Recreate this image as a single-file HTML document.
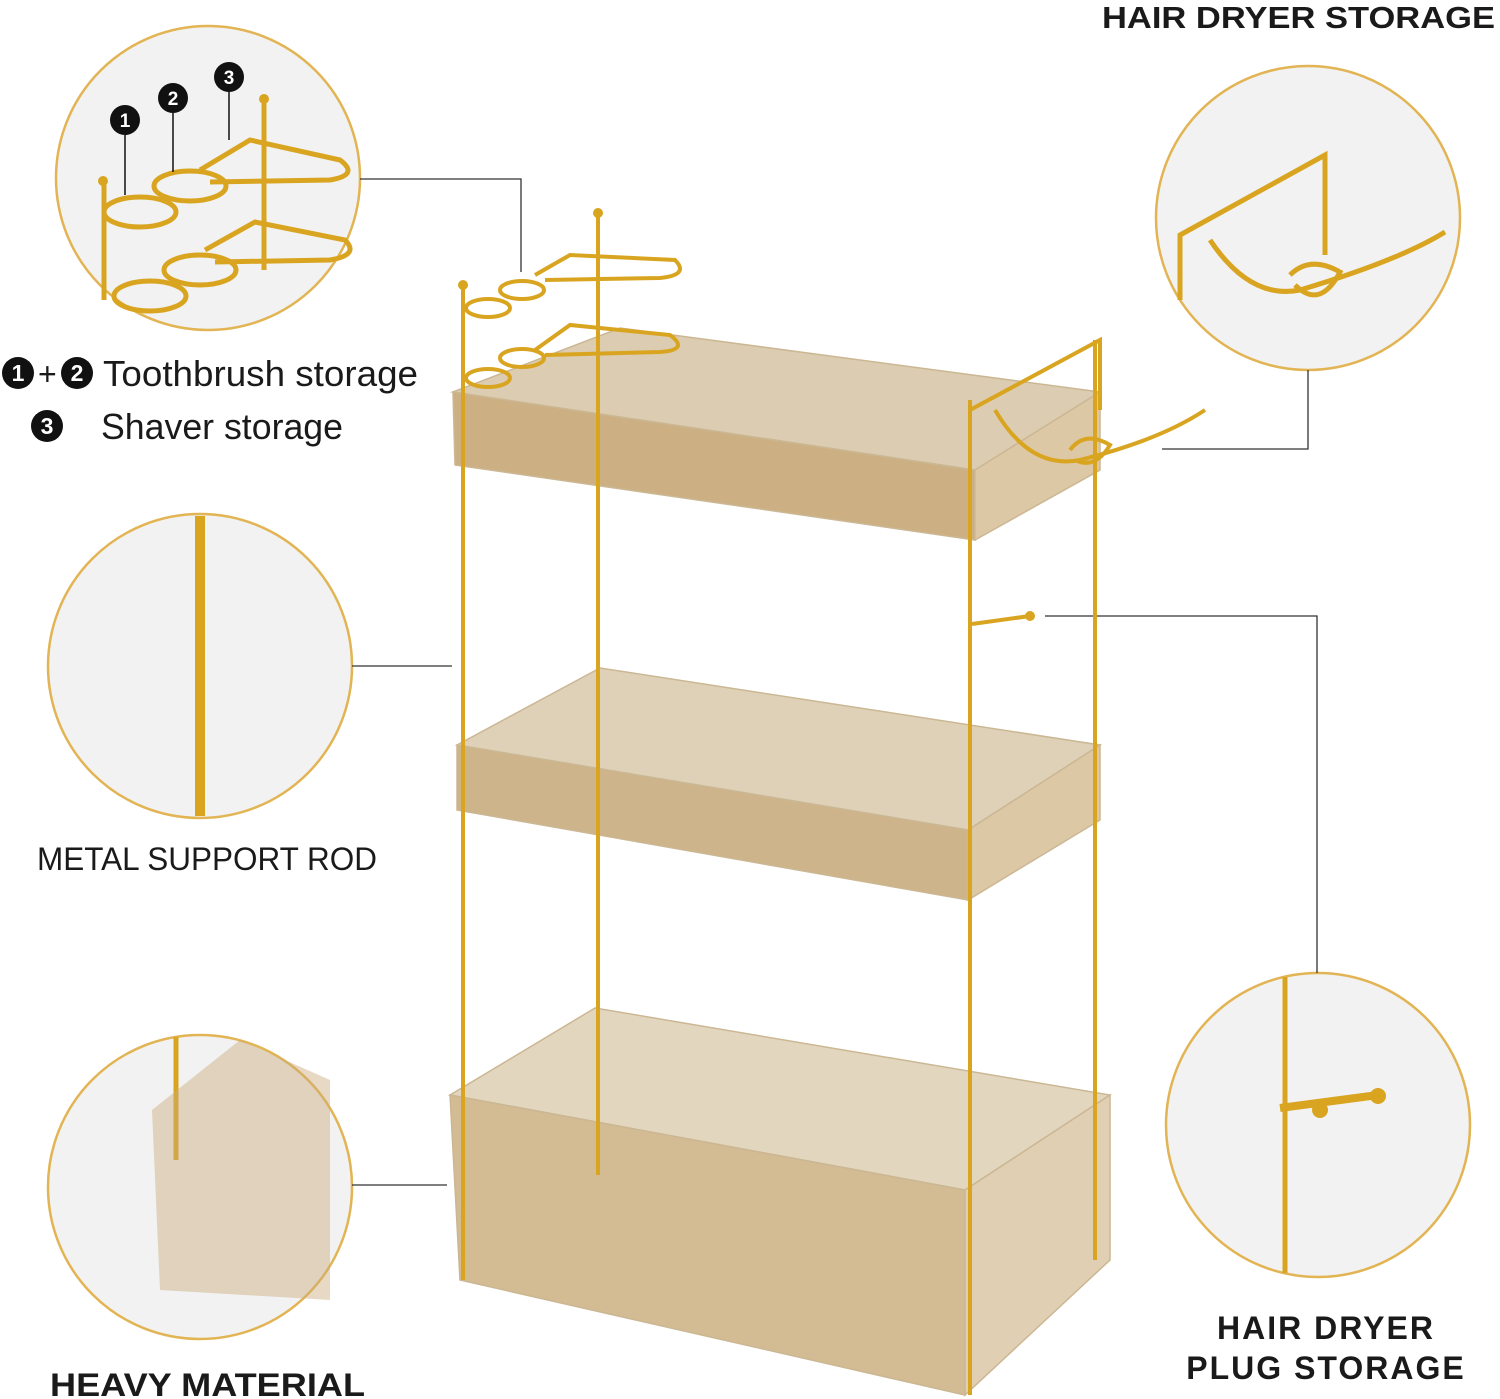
<!DOCTYPE html>
<html><head><meta charset="utf-8"><style>
html,body{margin:0;padding:0;background:#fff;}
svg{display:block;}
text{font-family:"Liberation Sans","DejaVu Sans",sans-serif;fill:#1a1a1a;}
</style></head><body>
<svg width="1500" height="1399" viewBox="0 0 1500 1399" xmlns="http://www.w3.org/2000/svg">
<rect width="1500" height="1399" fill="#fff"/>
<g fill="#f2f2f2" stroke="#e2b453" stroke-width="2.5">
<circle cx="208" cy="178" r="152"/>
<circle cx="1308" cy="218" r="152"/>
<circle cx="200" cy="666" r="152"/>
<circle cx="200" cy="1187" r="152"/>
<circle cx="1318" cy="1125" r="152"/>
</g>
<g fill="none" stroke="#d9a520" stroke-width="5">
<line x1="104" y1="182" x2="104" y2="300"/>
<line x1="264" y1="100" x2="264" y2="270"/>
<ellipse cx="140" cy="212" rx="36" ry="15"/><ellipse cx="190" cy="186" rx="36" ry="15"/>
<path d="M200 170 L250 140 L340 160 Q360 175 330 180 L210 182"/>
<ellipse cx="150" cy="296" rx="36" ry="15"/><ellipse cx="200" cy="270" rx="36" ry="15"/>
<path d="M205 250 L255 222 L345 240 Q360 255 330 260 L215 262"/>
<path d="M1180 300 L1180 235 L1325 155 L1325 255"/>
<path d="M1210 240 Q1250 300 1300 290 Q1400 260 1445 232"/>
<path d="M1290 275 Q1310 255 1340 272 Q1320 310 1295 285"/>
<line x1="200" y1="516" x2="200" y2="816" stroke-width="10"/>
<line x1="1285" y1="977" x2="1285" y2="1273" stroke-width="5"/>
<line x1="1280" y1="1108" x2="1378" y2="1095" stroke-width="8"/>
<line x1="176" y1="1037" x2="176" y2="1160" stroke-width="5"/>
</g>
<circle cx="1320" cy="1110" r="8" fill="#d9a520"/><circle cx="1378" cy="1096" r="8" fill="#d9a520"/>
<path d="M152 1110 L240 1040 L330 1080 L330 1300 L160 1290 Z" fill="#c9ab7a" opacity="0.45"/>
<g fill="none" stroke="#333" stroke-width="1.3">
<polyline points="360,179 521,179 521,272"/>
<polyline points="1308,370 1308,449 1162,449"/>
<line x1="352" y1="666" x2="452" y2="666"/>
<line x1="352" y1="1185" x2="447" y2="1185"/>
<polyline points="1045,616 1317,616 1317,973"/>
</g>
<g stroke="#cbb793" stroke-width="1.5">
<polygon points="450,1095 595,1008 1110,1095 965,1190" fill="#e3d6bf"/>
<polygon points="450,1095 965,1190 965,1395 460,1280" fill="#d3bb93"/>
<polygon points="965,1190 1110,1095 1110,1260 965,1395" fill="#e0cfb2"/>
<polygon points="457,745 600,668 1100,745 968,830" fill="#dfd1b8"/>
<polygon points="457,745 968,830 968,900 457,810" fill="#ceb48a"/>
<polygon points="968,830 1100,745 1100,820 968,900" fill="#ddc8a6"/>
<polygon points="453,392 620,328 1100,392 975,470" fill="#dccdb2"/>
<polygon points="453,392 975,470 975,540 455,465" fill="#ccb084"/>
<polygon points="975,470 1100,392 1100,470 975,540" fill="#ddc8a6"/>
</g>
<g stroke="#d9a520" stroke-width="4" fill="none">
<line x1="463" y1="285" x2="463" y2="1280"/>
<line x1="598" y1="215" x2="598" y2="1175"/>
<line x1="970" y1="400" x2="970" y2="1395"/>
<line x1="1095" y1="340" x2="1095" y2="1260"/>
<ellipse cx="488" cy="378" rx="22" ry="9"/><ellipse cx="522" cy="358" rx="22" ry="9"/>
<path d="M535 350 L570 325 L670 335 Q690 350 660 352 L545 355"/>
<ellipse cx="488" cy="308" rx="22" ry="9"/><ellipse cx="522" cy="290" rx="22" ry="9"/>
<path d="M535 275 L570 255 L675 260 Q690 275 660 278 L545 280"/>
<path d="M970 420 L970 410 L1100 340 L1100 410"/>
<path d="M995 410 Q1030 470 1080 460 Q1160 440 1205 410"/>
<path d="M1070 450 Q1085 430 1110 445 Q1095 470 1075 460"/>
<line x1="972" y1="624" x2="1030" y2="616"/>
</g>
<circle cx="463" cy="285" r="5" fill="#d9a520"/><circle cx="598" cy="213" r="5" fill="#d9a520"/>
<circle cx="1030" cy="616" r="5" fill="#d9a520"/>
<circle cx="103" cy="181" r="5" fill="#d9a520"/><circle cx="264" cy="99" r="5" fill="#d9a520"/>
<g font-weight="bold" font-size="19" text-anchor="middle">
<circle cx="125" cy="120" r="15" fill="#111"/><text x="125" y="127" style="fill:#fff">1</text>
<circle cx="173" cy="98" r="15" fill="#111"/><text x="173" y="105" style="fill:#fff">2</text>
<circle cx="229" cy="77" r="15" fill="#111"/><text x="229" y="84" style="fill:#fff">3</text>
</g>
<g stroke="#111" stroke-width="1.5"><line x1="125" y1="135" x2="125" y2="195"/><line x1="173" y1="113" x2="173" y2="172"/><line x1="229" y1="92" x2="229" y2="140"/></g>
<g font-size="23" font-weight="bold" text-anchor="middle">
<circle cx="18" cy="373" r="16" fill="#111"/><text x="18" y="381" style="fill:#fff">1</text>
<circle cx="77" cy="373" r="16" fill="#111"/><text x="77" y="381" style="fill:#fff">2</text>
<circle cx="47" cy="426" r="16" fill="#111"/><text x="47" y="434" style="fill:#fff">3</text>
</g>
<text x="38" y="385" font-size="32">+</text>
<text x="103" y="386" font-size="36" textLength="315" lengthAdjust="spacingAndGlyphs">Toothbrush storage</text>
<text x="101" y="439" font-size="36" textLength="242" lengthAdjust="spacingAndGlyphs">Shaver storage</text>
<text x="1102" y="28" font-size="31" font-weight="bold" textLength="393" lengthAdjust="spacingAndGlyphs">HAIR DRYER STORAGE</text>
<text x="37" y="870" font-size="32" textLength="340" lengthAdjust="spacingAndGlyphs">METAL SUPPORT ROD</text>
<text x="50" y="1396" font-size="32" font-weight="bold" textLength="315" lengthAdjust="spacingAndGlyphs">HEAVY MATERIAL</text>
<text x="1326" y="1339" font-size="32" font-weight="bold" letter-spacing="2" text-anchor="middle">HAIR DRYER</text>
<text x="1326" y="1379" font-size="32" font-weight="bold" letter-spacing="2" text-anchor="middle">PLUG STORAGE</text>
</svg>
</body></html>
